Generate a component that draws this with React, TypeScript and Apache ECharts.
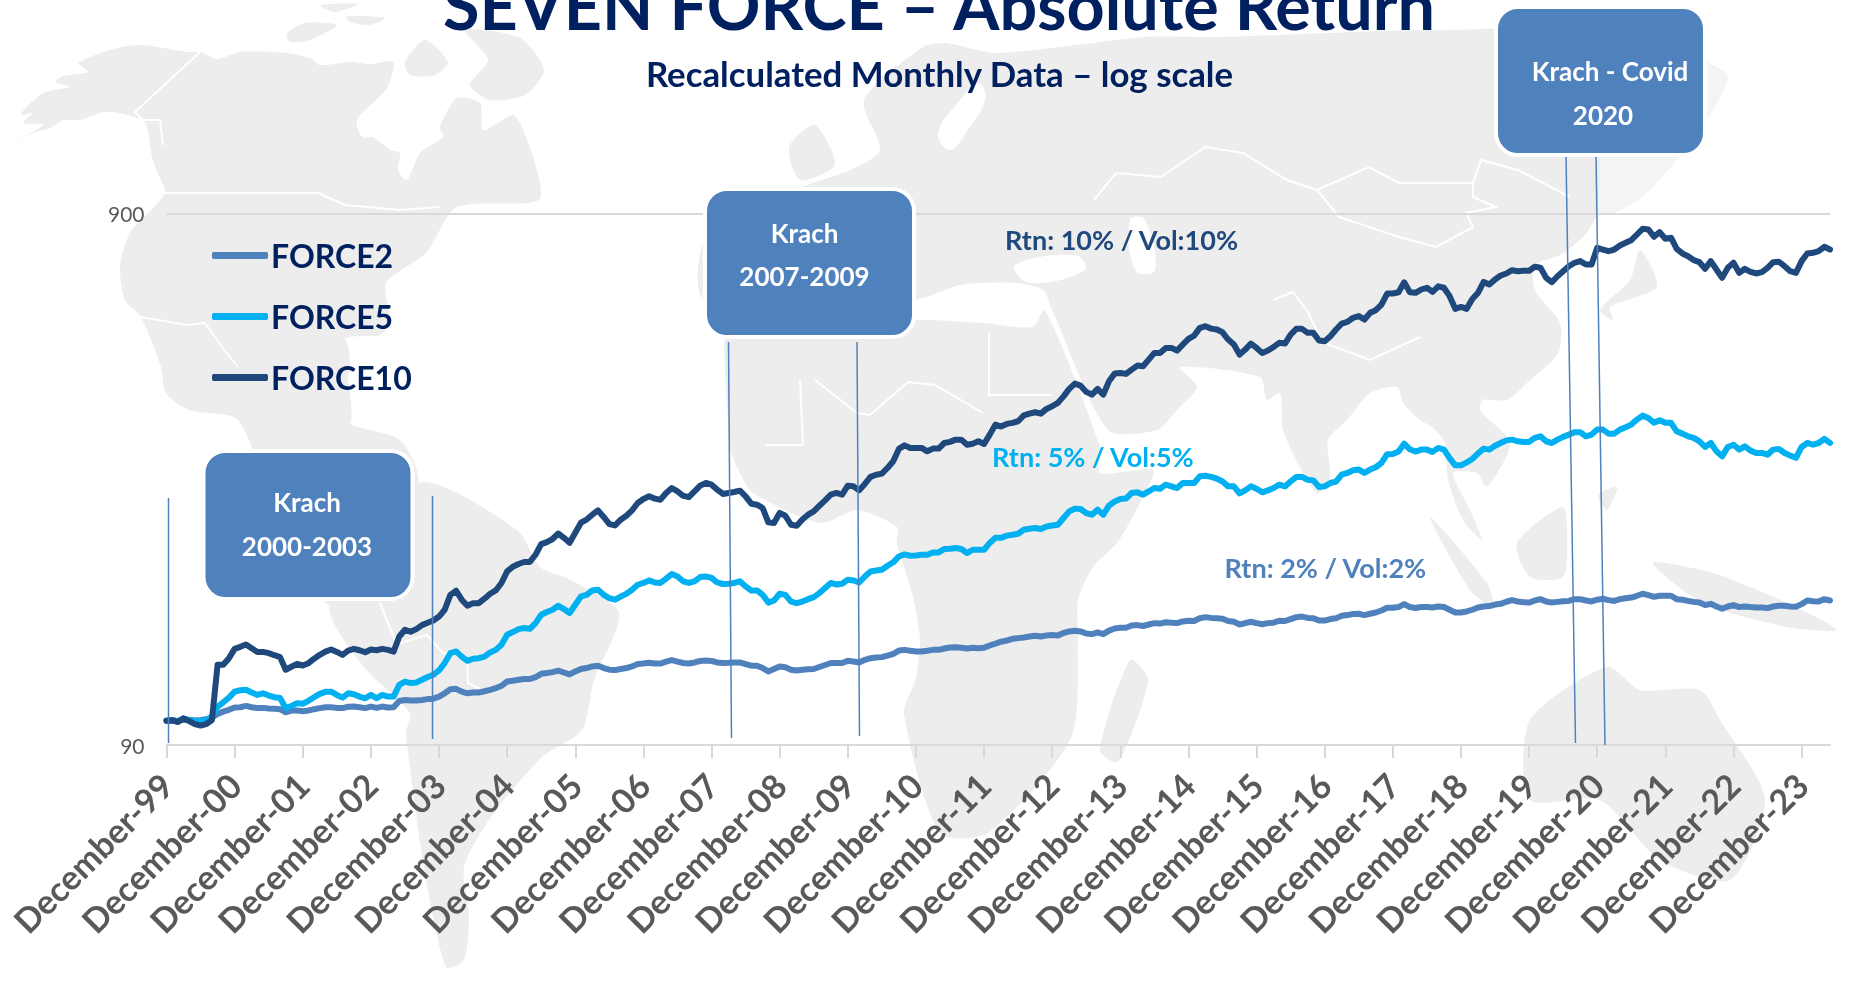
import React, { useEffect, useRef } from "react";
import * as echarts from "echarts";

const monthNames = ["January","February","March","April","May","June","July","August","September","October","November","December"];
const categories: string[] = [];
for (let n = 0; n < 294; n++) {
  const m = (11 + n) % 12;
  const y = (1999 + Math.floor((11 + n) / 12)) % 100;
  categories.push(monthNames[m] + "-" + String(y).padStart(2, "0"));
}

const force10 = [100,100.2,99.4,101,99.8,98.5,97.9,98.5,100.3,127.4,127.4,131.1,136.5,137.7,139.1,136.9,134.7,134.7,134,132.8,131.7,124.7,126.3,127.9,127,128.3,130.8,133,134.9,136.1,134.7,133,135.5,136.5,135.7,134.5,136.1,135.7,136.5,135.9,134.9,144,148.3,147,148.7,151.3,152.8,154.4,157,161.7,172.5,175.6,168.9,164.5,166.4,166.4,169.6,173.3,175.8,181.6,190.9,194.8,197.1,198.9,198.9,205.2,214.9,216.8,219.7,225,220.8,216.2,225.7,235.8,239,244.1,248.7,241.7,234.4,233,238.9,243,248.7,256.8,261.3,264.3,261.7,260.5,268.2,274,270.1,264.9,263.5,270.1,276.8,280.1,278,272.1,267,268.2,269.3,270.9,264.3,256,254.9,251.3,236.1,235.4,246,243,233.7,232.7,239,244.1,247.6,253.8,259.7,266.2,268.2,266.2,276.8,276,271.2,278.9,287.5,290.3,291.6,298.9,307.6,324.6,329.6,326,326,326,321.2,325,325,333,334.6,337.9,337.9,330.6,332,335.4,331.6,345.3,360.6,357.6,361.7,363.4,365.9,375.3,378.2,380.4,378.2,386,390.4,396.2,407.6,420.9,430.7,426.9,415.5,410.6,420.9,410.6,435,449.8,451.1,449.2,457.7,465.7,464.3,478,492,492,502.8,502.8,497,510,522.8,530.3,548.3,552.2,546.6,544.4,537.9,521.3,510,488.4,499.1,512.3,502.8,492,497,504.9,513.9,512.3,532.6,546,546,536.6,536.6,519,517.5,528.7,544.4,558.7,562.8,572.8,577,568.5,585.3,592,606.6,636.3,636.3,639.9,668,639.9,638.2,647.5,652.4,641,656.4,652.4,629,595.5,600.5,595.5,621.5,638.2,669.1,661.5,676.2,687.9,694,704,700.9,702.2,702.2,714.4,711.4,681.1,668.3,685.9,700.9,716.3,727,732.3,721.5,721.5,775.7,770,764.4,770,783.5,792.6,801.6,821.7,842.3,839.9,813.7,830,806.8,810.3,772.3,757,748,735.3,728.9,708.3,732.3,706,681,711.4,727,696,708.3,699.1,694,698,711.4,728.9,730.2,716.3,700.9,696,732.3,757,759.2,764.4,779,770];

const force5 = [100,100.2,99.8,100.9,100.3,99.9,99.9,100.3,101.8,106.3,108.3,110.5,113.4,114.1,114.3,113,111.8,112.6,111.5,110.7,110.3,105.6,106.6,107.9,107.6,109,110.7,112.3,113.3,113.4,111.8,110.5,112.6,112.1,111,110.2,111.8,110.2,111.8,111,111,116.8,118.4,117.7,118,119.4,120.8,122,124.3,128.4,134,135,132,129.6,130.8,131.1,132,134.4,135.9,138.9,145.1,146.8,148.7,149.4,148.9,152.6,158.2,160.1,161.7,164.5,162.2,159.4,165.2,171.4,172.5,175.8,176.3,172.5,170,168.9,171.2,173.3,176.3,180.2,181.6,183.6,182,181.6,185,188.8,186.8,182.9,181.6,182.9,186.3,186.8,185.7,182,180.8,181,181.6,182.9,178.9,175.8,175.8,172.5,166.8,168.3,173.3,172.5,167.5,166.4,167.5,169.3,170.8,173.8,177.7,181.6,180.4,181,184.2,183.6,182,186.8,190.9,191.7,192.3,195.6,198.6,203.7,205.5,204.3,204.6,205.2,205.2,207.3,207.3,210.4,210.6,211.3,210.4,206.7,209.7,209.7,209.7,216,220.8,220.8,222.9,223.8,224.8,228.7,229.7,230.4,229.4,232,233,233.7,240.6,247.6,250.6,250.2,245.8,244.1,249.5,244.1,253.8,258.5,261.3,261.7,268.2,268.9,266.2,270.1,274,273.2,278,276,274,280,280,280,288.2,289,287.5,285.3,281.8,276,276,267.7,271.2,276,273.2,268.9,271.2,274,278,276,281.8,287.5,287.5,284,283.2,275.3,276,280,281.8,290.3,292.5,295.8,296.8,292.5,296.8,299.8,305.4,317.2,317.6,320.9,332,324,320.9,323.6,323.6,320.4,326,323.6,311.9,302.3,302.3,306.1,310.8,318.2,325,323.6,329.1,333,336.8,337.9,335.4,334.6,334.6,340.5,342.8,335.4,333,337.9,342,345.3,348.8,348.8,342.8,345.3,352.9,352.9,346.8,346.8,352.9,356.4,360.6,368.5,374.9,371.1,363.4,367.5,363.4,363.4,350.3,346.8,342.8,340.5,335.4,327.4,333,321.2,314.3,327.4,330.6,323.6,328.2,322.2,318.9,318.9,316.6,323.6,324.6,318.9,315.3,312.3,327.4,333,330.6,333,339,333.1];

const force2 = [100,100.1,99.9,100.4,100.3,100.1,100.3,100.6,101.2,103,104,104.8,105.9,106,106.6,106,105.6,105.7,105.4,105.3,105.1,103.7,104.5,104.5,104.2,104.5,105.1,105.6,106,106,105.7,105.6,106.2,106.3,106,105.6,106.3,105.7,106.3,105.9,106,108.9,109.4,109.1,109.1,109.4,109.8,110,111,112.6,114.6,114.8,113.4,112.6,113,113,113.6,114.3,115.1,116.3,118.5,118.9,119.4,119.8,119.8,120.8,122.5,122.9,123.4,124.2,123.2,122.2,123.8,125.1,125.6,126.5,126.9,125.6,124.7,124.5,125.1,125.6,126.5,127.8,128.1,128.5,128.1,128.1,129.1,130,129.2,128.4,128.1,128.7,129.5,129.8,129.5,128.7,128.4,128.5,128.7,128.7,127.8,126.9,126.9,125.6,123.8,125.1,126.5,126,124.7,124.3,124.7,124.9,125.1,126.2,127.3,128.4,128.4,128.4,129.6,129.2,128.7,130.2,131.1,131.5,131.7,132.6,133.6,135.5,135.9,135.4,135,135,135.4,135.9,135.9,136.7,137.3,137.5,137.1,136.7,137.1,136.9,137.1,138.5,139.6,140.8,141.5,142.6,143,143.4,144,144.5,144,144.7,144.9,144.7,146.2,147.2,147.7,147.2,145.9,145.5,146.6,145.5,147.7,149.1,149.6,149.6,151,151.3,150.7,151.7,152.6,152.3,153.2,152.9,152.6,153.7,154.2,154,155.9,156.6,156.1,155.9,155.5,154,153.5,151.7,152.6,153.5,152.6,151.9,152.6,152.9,154.2,154,155.3,156.6,157,156.1,155.9,154.3,154.3,155.3,155.9,157.5,158,158.7,158.9,158,158.9,159.8,161.2,163.1,163.1,163.6,165.7,163.6,162.9,163.6,163.6,163.3,164,163.6,161.7,159.8,159.8,160.5,161.7,163.3,164,164.3,165.4,165.9,167.4,168.6,167.6,167.1,166.8,168.3,169.3,167.6,166.8,167.3,167.8,168,169.3,169.3,168.3,167.6,168.9,169.6,168.6,168,169.3,170,170.5,171.8,173.3,172.3,171,171.8,171.8,171.8,169.3,168.9,168,167.3,166.8,165,165.9,164,162.4,164,165,163.6,164,163.6,163.3,163.3,162.9,164,164.5,164.5,164,163.8,165.7,168.3,167.8,167.6,169.3,168.3];

const yTickValues = [90, 900];
const FONT = "Lato";
const NAVY = "#002060";
const C2 = "#4F81BD";
const C5 = "#00B0F0";
const C10 = "#1F497D";
const LAND = "#ededed";

const land: number[][][] = [
  // North America
  [[7,146],[33,133],[50,128],[63,120],[80,120],[100,113],[113,112],[143,120],[147,127],[152,157],[157,172],[165,193],[130,233],[120,267],[125,300],[141,317],[161,367],[166,393],[189,410],[238,420],[270,500],[310,580],[330,605],[360,560],[418,483],[400,440],[345,420],[350,360],[345,340],[324,337],[248,353],[238,373],[250,420],[300,451],[350,425],[345,340],[380,335],[390,320],[386,283],[426,253],[457,207],[539,200],[534,160],[520,123],[512,115],[483,130],[480,103],[457,98],[440,127],[443,137],[420,153],[407,180],[398,170],[400,153],[390,150],[373,137],[362,137],[357,120],[387,88],[393,62],[370,64],[350,62],[320,65],[310,58],[287,53],[240,52],[217,59],[200,52],[187,52],[143,45],[117,48],[78,63],[88,72],[63,76],[55,82],[70,87],[43,93],[20,115],[33,113],[23,123],[43,125]],
  // Arctic islands
  [[287,33],[305,23],[337,25],[310,40],[290,42]],
  [[347,16],[385,18],[370,25],[350,22]],
  [[405,62],[425,40],[448,62],[435,75],[410,75]],
  [[465,30],[520,38],[544,70],[525,95],[490,100],[470,85],[488,60]],
  [[320,5],[358,4],[335,12]],
  // South America
  [[330,605],[364,667],[410,713],[406,733],[424,867],[446,967],[464,960],[469,917],[464,867],[491,817],[542,757],[582,730],[594,680],[619,613],[571,580],[540,567],[517,530],[418,483]],
  // Africa
  [[730,300],[800,320],[925,320],[983,323],[1033,327],[1045,310],[1100,447],[1100,473],[1153,470],[1140,503],[1117,543],[1093,567],[1078,600],[1078,640],[1071,738],[988,833],[940,833],[904,714],[916,678],[920,640],[913,597],[897,543],[897,527],[857,510],[820,523],[753,493],[740,473],[730,447]],
  // Madagascar
  [[1130,660],[1148,680],[1118,762],[1100,750]],
  // Eurasia
  [[705,300],[705,240],[780,195],[850,170],[880,150],[864,100],[923,47],[945,43],[997,53],[1146,37],[1220,37],[1443,30],[1600,40],[1600,155],[1597,213],[1585,235],[1560,255],[1535,265],[1535,290],[1560,323],[1558,353],[1527,383],[1507,400],[1483,400],[1480,410],[1510,443],[1487,487],[1477,473],[1453,473],[1470,510],[1482,540],[1463,520],[1448,480],[1445,443],[1432,427],[1420,420],[1403,403],[1397,387],[1370,393],[1347,420],[1328,440],[1330,480],[1317,493],[1300,467],[1283,430],[1280,393],[1267,400],[1260,377],[1180,367],[1197,387],[1177,410],[1157,430],[1108,430],[1052,310],[1043,290],[1017,283],[960,285],[914,300]],
  // UK
  [[789,147],[815,125],[835,165],[800,180]],
  // Japan, Korea
  [[1640,250],[1657,287],[1610,307],[1613,320],[1600,310],[1630,280]],
  // Sumatra, Borneo, Philippines, New Guinea, Australia
  [[1430,517],[1487,583],[1493,607],[1470,590]],
  [[1517,543],[1563,507],[1567,543],[1563,577],[1530,577]],
  [[1617,487],[1607,510],[1598,495]],
  [[1653,563],[1713,573],[1787,603],[1837,630],[1787,627],[1703,603]],
  [[1530,720],[1607,667],[1640,690],[1700,690],[1720,720],[1765,800],[1730,880],[1660,860],[1600,800],[1530,800]],
];

const faintLand: number[][][] = [
  // North-east Russia, fading out to the right
  [[1600,40],[1726,73],[1700,130],[1650,190],[1622,210],[1597,213]],
];

const lakes: number[][][] = [
  // Baltic, Black Sea, Caspian
  [[938,133],[960,100],[979,83],[985,100],[968,130],[950,150]],
  [[1015,265],[1075,255],[1085,270],[1030,283]],
  [[1130,220],[1145,220],[1155,270],[1135,270]],
];

const borders: number[][][] = [
  [[200,52],[135,112],[143,120],[160,120],[163,145]],
  [[165,193],[318,193],[345,205],[400,210],[440,207]],
  [[141,317],[187,325],[205,323],[222,347],[238,367]],
  [[1094,200],[1116,173],[1161,177],[1205,147],[1243,153],[1287,180],[1317,190],[1369,167],[1399,183],[1473,183],[1481,160],[1518,170],[1570,197]],
  [[1317,190],[1339,217],[1399,237],[1436,247],[1473,227],[1466,213],[1496,207],[1473,197],[1473,183]],
  [[800,380],[803,445],[765,445]],
  [[815,380],[857,413],[870,415],[908,382],[935,385],[983,413]],
  [[989,333],[989,395],[1052,395]],
  [[1273,300],[1293,292],[1308,312],[1322,342],[1370,360],[1420,337]],
  [[400,643],[427,635],[443,653],[467,657],[468,683],[483,690]],
  [[380,603],[395,640]],
];

const vLines = [
  [168.5, 498, 168.5, 743],
  [432.5, 496, 432.5, 739],
  [728.5, 342, 731.5, 738],
  [857, 342, 859.5, 736],
  [1566, 155, 1575.5, 743],
  [1596, 155, 1605, 745],
];

const boxes = [
  { x: 203.5, y: 451, w: 209, h: 148, lines: [["Krach", 307, 502], ["2000-2003", 307, 546]] },
  { x: 705, y: 189, w: 209, h: 148, lines: [["Krach", 804.5, 233], ["2007-2009", 804.5, 276]] },
  { x: 1496, y: 7, w: 209, h: 148, lines: [["Krach - Covid", 1610, 71], ["2020", 1603, 115]] },
];

const notes = [
  ["Rtn: 10% / Vol:10%", 1005, 239, C10],
  ["Rtn: 5% / Vol:5%", 992, 456, C5],
  ["Rtn: 2% / Vol:2%", 1224.5, 567, C2],
];

export default function App() {
  const ref = useRef<HTMLDivElement>(null);
  useEffect(() => {
    document.body.style.margin = "0";
    const chart = echarts.init(ref.current!, null, { renderer: "svg" });
    const graphic: any[] = [];
    land.forEach((points) =>
      graphic.push({ type: "polygon", silent: true, z: -30, shape: { points, smooth: 0.25 }, style: { fill: LAND } })
    );
    faintLand.forEach((points) =>
      graphic.push({ type: "polygon", silent: true, z: -31, shape: { points, smooth: 0.25 }, style: { fill: "#f4f4f4" } })
    );
    lakes.forEach((points) =>
      graphic.push({ type: "polygon", silent: true, z: -29, shape: { points, smooth: 0.4 }, style: { fill: "#ffffff" } })
    );
    borders.forEach((points) =>
      graphic.push({ type: "polyline", silent: true, z: -28, shape: { points }, style: { stroke: "#ffffff", lineWidth: 2, fill: "none" } })
    );
    vLines.forEach(([x1, y1, x2, y2]) =>
      graphic.push({ type: "line", silent: true, z: 8, shape: { x1, y1, x2, y2 }, style: { stroke: C2, lineWidth: 1.5 } })
    );
    boxes.forEach((b) => {
      graphic.push({
        type: "rect", silent: true, z: 20,
        shape: { x: b.x, y: b.y, width: b.w, height: b.h, r: 22 },
        style: { fill: C2, stroke: "#ffffff", lineWidth: 4 },
      });
      b.lines.forEach(([text, x, y]) =>
        graphic.push({
          type: "text", silent: true, z: 21, x: x as number, y: y as number,
          style: { text, fill: "#ffffff", font: `bold 26px ${FONT}`, textAlign: "center", textVerticalAlign: "middle" },
        })
      );
    });
    notes.forEach(([text, x, y, fill]) =>
      graphic.push({
        type: "text", silent: true, z: 21, x, y,
        style: { text, fill, font: `bold 27px ${FONT}`, textAlign: "left", textVerticalAlign: "middle" },
      })
    );

    const line = (name: string, data: number[], color: string, extra: any = {}) => ({
      name, type: "line", data, showSymbol: false, symbol: "none", smooth: false,
      lineStyle: { color, width: 6, cap: "round", join: "round" },
      itemStyle: { color },
      ...extra,
    });

    chart.setOption({
      animation: false,
      backgroundColor: "transparent",
      title: [
        {
          text: "SEVEN FORCE – Absolute Return", left: 934, top: -35, textAlign: "center",
          textStyle: { color: NAVY, fontFamily: FONT, fontWeight: "bold", fontSize: 66.5 },
        },
        {
          text: "Recalculated Monthly Data – log scale", left: 934.5, top: 51, textAlign: "center",
          textStyle: { color: NAVY, fontFamily: FONT, fontWeight: "bold", fontSize: 34.8 },
        },
      ],
      legend: {
        orient: "vertical", left: 212, top: 239.5, padding: 0, itemGap: 29,
        itemWidth: 56, itemHeight: 7, icon: "roundRect",
        data: ["FORCE2", "FORCE5", "FORCE10"],
        textStyle: { color: NAVY, fontFamily: FONT, fontWeight: "bold", fontSize: 32, lineHeight: 32, padding: [0, 0, 0, -2] },
      },
      grid: { left: 166.5, right: 36, top: 213.5, bottom: 238 },
      xAxis: {
        type: "category", boundaryGap: false, data: categories,
        axisLine: { onZero: false, lineStyle: { color: "#d9d9d9", width: 2 } },
        axisTick: { alignWithLabel: true, interval: 11, length: 13, lineStyle: { color: "#d9d9d9", width: 2 } },
        axisLabel: {
          interval: 11, rotate: 45, margin: 34, color: "#595959",
          fontFamily: FONT, fontWeight: "bold", fontSize: 34, hideOverlap: false,
        },
        splitLine: { show: false },
      },
      yAxis: {
        type: "log", logBase: 10, min: 90, max: 900,
        axisLine: { show: false }, axisTick: { show: false },
        axisLabel: { customValues: yTickValues, margin: 22, color: "#595959", fontFamily: FONT, fontSize: 21 },
        splitLine: { show: false },
      },
      series: [
        line("FORCE2", force2, C2, {
          markLine: {
            silent: true, symbol: "none", label: { show: false }, z: 1,
            lineStyle: { color: "#d9d9d9", width: 2, type: "solid" },
            data: [{ yAxis: 900 }],
          },
        }),
        line("FORCE5", force5, C5),
        line("FORCE10", force10, C10),
      ],
      graphic,
    });
    return () => chart.dispose();
  }, []);
  return <div ref={ref} style={{ position: "fixed", left: 0, top: 0, width: 1866, height: 983 }} />;
}
